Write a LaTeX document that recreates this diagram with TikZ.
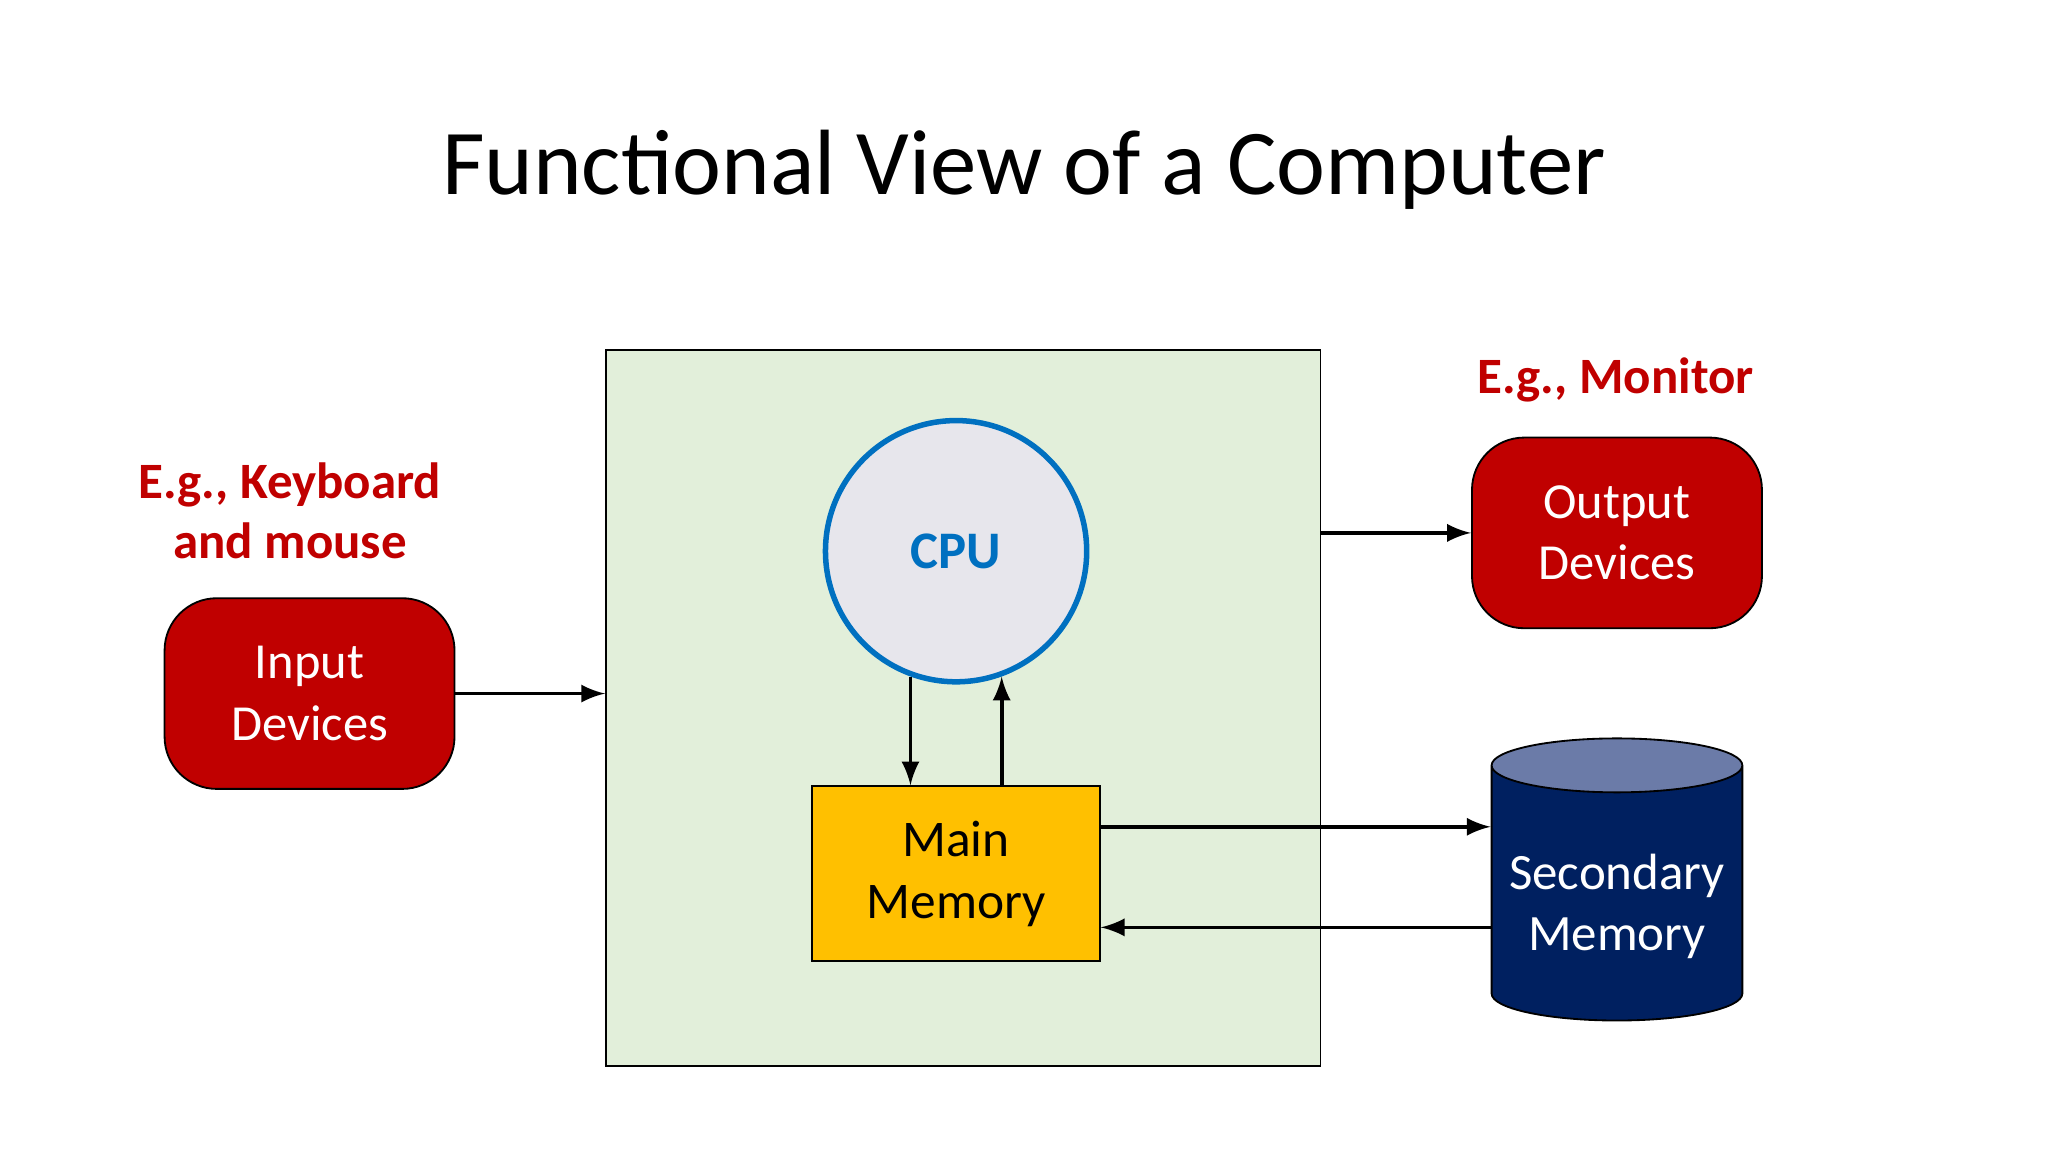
\documentclass[tikz,border=0pt]{standalone}
\usepackage{fontspec}
\setmainfont{Carlito}
\usetikzlibrary{shapes.geometric,positioning,calc}
\definecolor{devred}{HTML}{C00000}
\definecolor{boxgreen}{HTML}{E2EFDA}
\definecolor{cpublue}{HTML}{0070C0}
\definecolor{cpufill}{HTML}{E7E6EC}
\definecolor{memyellow}{HTML}{FFC000}
\definecolor{secnavy}{HTML}{002060}
\definecolor{sectop}{HTML}{6B7BA8}
\begin{document}
\begin{tikzpicture}[x=0.1mm,y=-0.1mm,
    device/.style={draw=black,fill=devred,rounded corners=4mm,minimum width=2.22cm,minimum height=1.46cm,
      text=white,align=center,font=\fontsize{11}{13.4}\selectfont},
    hint/.style={text=devred,align=center,font=\fontsize{11.1}{13.2}\selectfont\bfseries},
    link/.style={->,>=latex,thick}]
    \useasboundingbox (0,0) rectangle (1568,882);
    \node (title) at (784,130) {\fontsize{20.2}{24}\selectfont Functional View of a Computer};
    \node[draw=black,fill=boxgreen,minimum width=5.47cm,minimum height=5.48cm] (sys) at (737.5,542) {};
    \node[circle,draw=cpublue,very thick,fill=cpufill,minimum size=2cm,text=cpublue,
      font=\fontsize{11.5}{14}\selectfont\bfseries] (cpu) at (732,422) {CPU};
    \node[draw=black,fill=memyellow,minimum width=2.2cm,minimum height=1.34cm,align=center,
      font=\fontsize{11.2}{13.4}\selectfont] (mem) at (732,669) {Main\\Memory};
    \node[device] (input) at (237,531) {Input\\Devices};
    \node[device] (output) at (1238,408) {Output\\Devices};
    \node[cylinder,shape border rotate=90,aspect=0.25,draw=black,cylinder uses custom fill,inner sep=0pt,
      cylinder body fill=secnavy,cylinder end fill=sectop,minimum width=1.92cm,minimum height=2.16cm,
      text=white,align=center,font=\fontsize{11.1}{13.4}\selectfont] (sec) at (1238,684) {\\Secondary\\Memory};
    \node[hint] (kbd) at (222,391) {E.g., Keyboard\\and mouse};
    \node[hint] (mon) at (1237,291) {E.g., Monitor};
    \draw[link] (input.east) -- (input.east -| sys.west);
    \draw[link] (output.west -| sys.east) -- (output.west);
    \draw[link] (cpu.250) -- (cpu.250 |- mem.north);
    \draw[link] (cpu.290 |- mem.north) -- (cpu.290);
    \draw[link] ([yshift=3.6mm]mem.east) -- ([yshift=3.6mm]mem.east -| sec.west);
    \draw[link] ([yshift=-4.1mm]mem.east -| sec.west) -- ([yshift=-4.1mm]mem.east);
\end{tikzpicture}
\end{document}
